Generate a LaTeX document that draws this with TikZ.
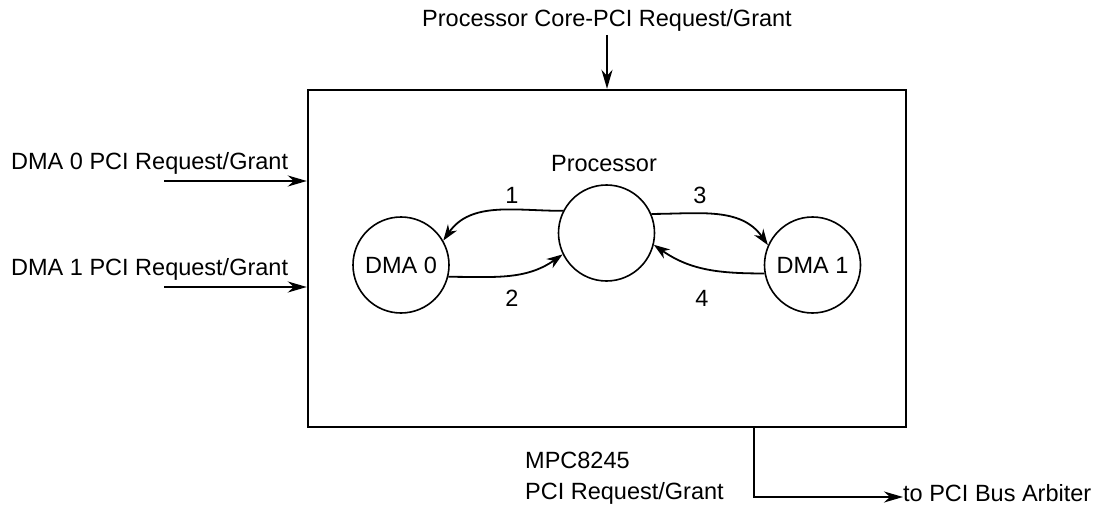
\documentclass[tikz,border=0pt]{standalone}
\usepackage{fontspec}
\setmainfont{Liberation Sans}
\usetikzlibrary{positioning,arrows.meta,calc}

\begin{document}
\begin{tikzpicture}[
  x=1pt, y=-1pt,
  >={Stealth[length=19pt, width=11pt, inset=6pt]},
  font=\fontsize{23.5}{31}\selectfont,
  chip/.style ={draw, line width=2.4pt, minimum width=598pt, minimum height=337pt, inner sep=0pt},
  unit/.style ={draw, circle, line width=1.6pt, minimum size=96pt, inner sep=0pt},
  lbl/.style  ={inner sep=0pt},
  sig/.style  ={->, line width=2.2pt},
  flow/.style ={->, line width=1.8pt, >={Stealth[length=16pt, width=11pt, inset=5pt]}}
]
\useasboundingbox (0,0) rectangle (1099,505);

% --- chip and the three units ---
\node[chip]             (mpc)    at (607,258.5) {};
\node[unit]             (dma0)   at (401,265)   {DMA 0};
\node[unit]             (cpu)    at (606.5,233) {};
\node[unit]             (dma1)   at (812.5,265) {DMA 1};
\node[lbl]              (cpulbl) at (604,164)   {Processor};

% --- request/grant hand-over inside the chip ---
\draw[flow] (cpu.153) to[out=180, in=55]  (dma0.30);
\draw[flow] (dma0.-14) to[out=0, in=215]  (cpu.206);
\draw[flow] (cpu.23)  to[out=0, in=125]   (dma1.156);
\draw[flow] (dma1.190) to[out=180, in=-35] (cpu.-14);

\node[lbl] (n1) at (512,195) {1};
\node[lbl] (n2) at (512,298) {2};
\node[lbl] (n3) at (700,195) {3};
\node[lbl] (n4) at (702,298) {4};

% --- incoming request/grant lines ---
\node[lbl] (core) at (607,20) {Processor Core-PCI Request/Grant};
\coordinate (corein) at (607,35);
\draw[sig] (corein) -- (corein |- mpc.north);

\node[lbl, anchor=west] (req0) at (11,163) {DMA 0 PCI Request/Grant};
\node[lbl, anchor=west] (req1) at (11,269) {DMA 1 PCI Request/Grant};
\coordinate (in0) at (164,181);
\coordinate (in1) at (164,287);
\draw[sig] (in0) -- (in0 -| mpc.west);
\draw[sig] (in1) -- (in1 -| mpc.west);

% --- outgoing line to the arbiter ---
\node[lbl, align=left, anchor=west] (mpclbl) at (525,478) {MPC8245\\PCI Request/Grant};
\node[lbl, anchor=west] (arb) at (903,493) {to PCI Bus Arbiter};
\coordinate (bend) at (754,497);
\draw[sig] (bend |- mpc.south) -- (bend) -- (bend -| arb.west);

\end{tikzpicture}
\end{document}
